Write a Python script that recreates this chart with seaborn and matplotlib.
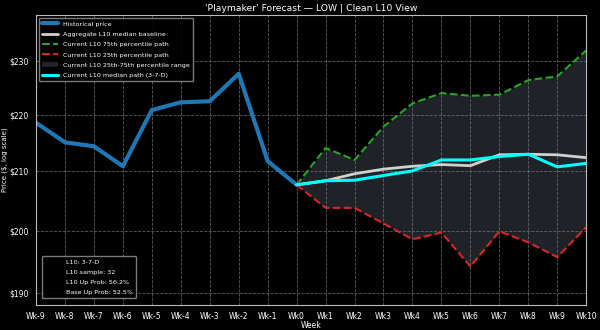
import numpy as np
import pandas as pd
import matplotlib
matplotlib.use("Agg")
import matplotlib.pyplot as plt
from matplotlib.lines import Line2D
import seaborn as sns

# Weekly labels
hist_weeks = ['Wk-9', 'Wk-8', 'Wk-7', 'Wk-6', 'Wk-5', 'Wk-4', 'Wk-3', 'Wk-2', 'Wk-1', 'Wk0']
fcst_weeks = ['Wk0', 'Wk1', 'Wk2', 'Wk3', 'Wk4', 'Wk5', 'Wk6', 'Wk7', 'Wk8', 'Wk9', 'Wk10']

# Prices
hist_price = [218.6, 215.1, 214.4, 210.9, 220.9, 222.3, 222.5, 227.6, 211.8, 207.7]
baseline = [207.7, 208.4, 209.6, 210.4, 210.9, 211.2, 211.0, 212.9, 213.0, 212.9, 212.4]
p75 = [207.7, 214.1, 212.0, 217.9, 222.1, 224.0, 223.5, 223.7, 226.4, 227.1, 232.0]
p25 = [207.7, 203.8, 203.8, 201.2, 198.6, 199.7, 194.2, 199.9, 198.1, 195.7, 200.6]
median = [207.7, 208.4, 208.5, 209.3, 210.1, 212.0, 212.0, 212.6, 213.0, 210.8, 211.4]

info_lines = ['L10: 3-7-D', 'L10 sample: 32', 'L10 Up Prob: 56.2%', 'Base Up Prob: 52.5%']

all_weeks = hist_weeks + fcst_weeks[1:]
pos = {w: i for i, w in enumerate(all_weeks)}

hist = pd.DataFrame({'x': [pos[w] for w in hist_weeks], 'price': hist_price})
fcst = pd.DataFrame({'x': [pos[w] for w in fcst_weeks], 'base': baseline,
                     'p75': p75, 'p25': p25, 'med': median})

plt.style.use('dark_background')
sns.set_style('dark', {'axes.facecolor': 'black', 'figure.facecolor': 'black'})
plt.rcParams['font.family'] = ['DejaVu Sans']
plt.rcParams['text.color'] = 'white'
plt.rcParams['axes.labelcolor'] = 'white'
plt.rcParams['xtick.color'] = 'white'
plt.rcParams['ytick.color'] = 'white'

fig, ax = plt.subplots(figsize=(6, 3.3), dpi=100)
fig.patch.set_facecolor('black')
ax.set_facecolor('black')

sns.lineplot(data=hist, x='x', y='price', ax=ax, color='#1f77b4', linewidth=3,
             marker='o', markersize=2, markeredgewidth=0, label='Historical price')
sns.lineplot(data=fcst, x='x', y='base', ax=ax, color='#d0d0d0', linewidth=2,
             label='Aggregate L10 median baseline')
sns.lineplot(data=fcst, x='x', y='p75', ax=ax, color='#2ca02c', linewidth=1.5,
             linestyle='--', label='Current L10 75th percentile path')
sns.lineplot(data=fcst, x='x', y='p25', ax=ax, color='#d62728', linewidth=1.5,
             linestyle='--', label='Current L10 25th percentile path')
ax.fill_between(fcst['x'], fcst['p25'], fcst['p75'], color='slategray', alpha=0.28,
                linewidth=0, label='Current L10 25th-75th percentile range')
sns.lineplot(data=fcst, x='x', y='med', ax=ax, color='cyan', linewidth=2.2,
             label='Current L10 median path (3-7-D)')

ax.set_yscale('log')
ax.set_ylim(188.2, 238.9)
ax.set_yticks([190, 200, 210, 220, 230])
ax.set_yticklabels(['$190', '$200', '$210', '$220', '$230'])
ax.yaxis.set_minor_locator(matplotlib.ticker.NullLocator())
ax.set_xlim(0, len(all_weeks) - 1)
ax.set_xticks(range(len(all_weeks)))
ax.set_xticklabels(all_weeks)
ax.tick_params(labelsize=5.5, length=3, pad=2, colors='white')

ax.grid(True, linestyle='--', color='#9a9a9a', alpha=0.6, linewidth=0.6)
for s in ax.spines.values():
    s.set_color('#bbbbbb')
    s.set_linewidth(0.8)

ax.set_title("'Playmaker' Forecast \u2014 LOW | Clean L10 View", fontsize=6.7, color='white', pad=3)
ax.set_xlabel('Week', fontsize=5.5, labelpad=0)
ax.set_ylabel('Price ($, log scale)', fontsize=5, labelpad=1)

leg = ax.legend(loc='upper left', fontsize=4.6, facecolor='black', edgecolor='#888888',
                framealpha=0.9, handlelength=2.4, labelspacing=0.75, borderpad=0.5)
ax.add_artist(leg)

# info box drawn as a second legend with blank handles
blank = [Line2D([], [], linestyle='none') for _ in info_lines]
ax.legend(blank, info_lines, loc='lower left', fontsize=4.6, facecolor='black',
          edgecolor='#888888', framealpha=0.9, handlelength=2.4, labelspacing=0.75,
          borderpad=0.5, bbox_to_anchor=(0.005, 0.01))

plt.subplots_adjust(left=0.06, right=0.977, top=0.955, bottom=0.077)
fig.savefig('out.png', dpi=100, facecolor='black')
